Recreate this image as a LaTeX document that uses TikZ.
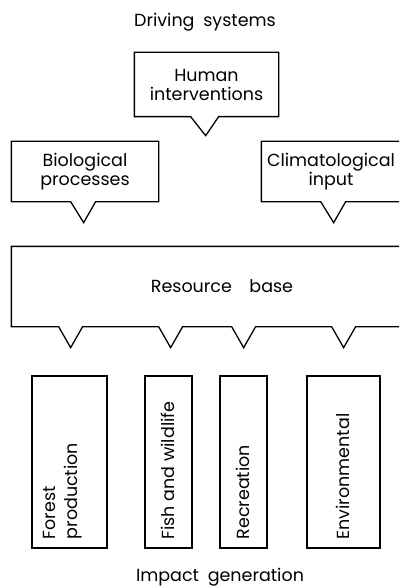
\documentclass[tikz,border=0pt]{standalone}
\usepackage{fontspec}
\setmainfont{Poppins}
\tikzset{
    x = 1pt, y = -1pt,
    box/.style = {inner sep = 0pt},
    txt/.style = {inner sep = 0pt, align = center, font = \fontsize{17.5}{19}\selectfont},
    vtxt/.style = {txt, align = left, rotate = 90, anchor = west}
}
\begin{document}
\begin{tikzpicture}[line width = 1.3pt]
    \useasboundingbox (0, 0) rectangle (399, 588);
    \clip (0, 0) rectangle (399, 588);

    \node[txt] (drv) at (205, 22) {Driving\enspace systems};
    \node[txt] (imp) at (220, 577) {Impact\enspace generation};

    \node[box, minimum width = 143pt, minimum height = 63pt] (hum) at (206.5, 84.5) {};
    \node[box, minimum width = 146pt, minimum height = 59pt] (bio) at (85, 171.5) {};
    \node[box, minimum width = 142pt, minimum height = 59pt] (cli) at (333, 171.5) {};
    \node[box, minimum width = 420pt, minimum height = 79pt] (res) at (222, 286.5) {};

    \node[txt] (hum text) at (hum) {Human\\interventions};
    \node[txt] (bio text) at (bio) {Biological\\processes};
    \node[txt] (cli text) at (331, 171.5) {Climatological\\input};
    \node[txt] (res text) at (res) {Resource\quad base};

    \draw (hum.south west) -- (hum.north west) -- (hum.north east) -- (hum.south east)
        -- ++(-60, 0) -- ++(-13, 19) -- ++(-15, -19) -- cycle;
    \draw (bio.south west) -- (bio.north west) -- (bio.north east) -- (bio.south east)
        -- ++(-63, 0) -- ++(-12, 21) -- ++(-13, -21) -- cycle;
    \draw (cli.south west) -- (cli.north west) -- (cli.north east) -- (cli.south east)
        -- ++(-59, 0) -- ++(-12, 21) -- ++(-13, -21) -- cycle;
    \draw (res.south west) -- (res.north west) -- (res.north east) -- (res.south east)
        -- ++(-77, 0) -- ++(-12, 21) -- ++(-12, -21)
        -- ++(-76, 0) -- ++(-12, 21) -- ++(-12, -21)
        -- ++(-49, 0) -- ++(-12, 21) -- ++(-12, -21)
        -- ++(-76, 0) -- ++(-12, 21) -- ++(-12, -21) -- cycle;

    \node[box, draw, minimum width = 75pt, minimum height = 172pt] (for) at (69.5, 462) {};
    \node[box, draw, minimum width = 47pt, minimum height = 172pt] (fish) at (168.5, 462) {};
    \node[box, draw, minimum width = 47pt, minimum height = 172pt] (rec) at (243.5, 462) {};
    \node[box, draw, minimum width = 73pt, minimum height = 172pt] (env) at (343.5, 462) {};

    \node[vtxt, font = \fontsize{17.5}{22}\selectfont] (for text) at (63, 540) {Forest\\production};
    \node[vtxt] (fish text) at (168, 540) {Fish and wildlife};
    \node[vtxt] (rec text) at (243, 540) {Recreation};
    \node[vtxt] (env text) at (343, 540) {Environmental};
\end{tikzpicture}
\end{document}
